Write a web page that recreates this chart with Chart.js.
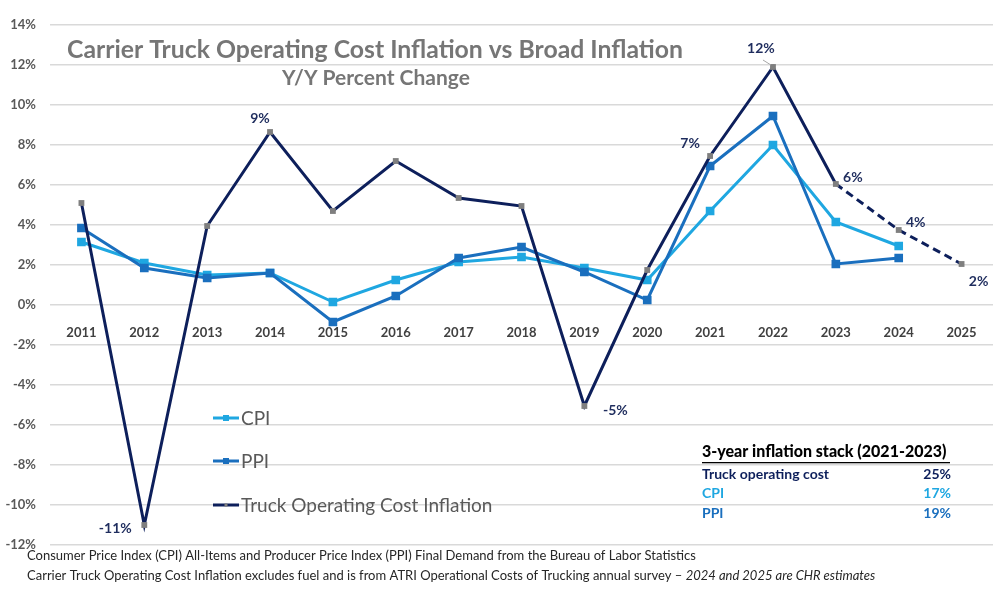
<!DOCTYPE html>
<html>
<head>
<meta charset="utf-8">
<script src="https://cdn.jsdelivr.net/npm/chart.js@4/dist/chart.umd.min.js"></script>
<style>
  body { margin: 0; background: #fff; }
  #grafico { display: block; }
</style>
</head>
<body>
<canvas id="grafico" width="1000" height="589"></canvas>
<script>
// dados (% variação anual)
const anos = ['2011','2012','2013','2014','2015','2016','2017','2018','2019','2020','2021','2022','2023','2024','2025'];
const cpi = [3.15, 2.1, 1.5, 1.6, 0.15, 1.25, 2.15, 2.4, 1.85, 1.25, 4.7, 8.0, 4.15, 2.95, null];
const ppi = [3.85, 1.85, 1.35, 1.6, -0.85, 0.45, 2.35, 2.9, 1.65, 0.25, 6.95, 9.45, 2.05, 2.35, null];
const caminhao = [5.1, -11.0, 3.95, 8.65, 4.7, 7.2, 5.35, 4.95, -5.05, 1.75, 7.45, 11.9, 6.05, 3.75, 2.05];
const rotulosCaminhao = [null, '-11%', null, '9%', null, null, null, null, '-5%', null, '7%', '12%', '6%', '4%', '2%'];
const inicioEstimativa = 12; // 2023 -> linha tracejada
const yTicks = [-12, -10, -8, -6, -4, -2, 0, 2, 4, 6, 8, 10, 12, 14];

const tabelaTitulo = '3-year inflation stack (2021-2023)';
const tabelaNomes = ['Truck operating cost', 'CPI', 'PPI'];
const tabelaValores = ['25%', '17%', '19%'];

const cores = { cpi: '#1fa7e1', ppi: '#1a6fbe', caminhao: '#0d1f5b' };
const fonte = 'Lato, "Noto Sans", sans-serif';

// deslocamento de cada rótulo em relação ao ponto
const deslocRotulos = {
    1: [-29, 3], 3: [-10, -14], 8: [31, 4], 10: [-20, -13],
    11: [-12, -19], 12: [17, -7], 13: [17, -8], 14: [17, 17]
};

const textosPlugin = {
    id: 'textos',
    afterDatasetsDraw(chart) {
        const { ctx } = chart;
        ctx.save();
        // título
        ctx.fillStyle = '#767676';
        ctx.textAlign = 'center';
        ctx.textBaseline = 'middle';
        ctx.font = `bold 25px ${fonte}`;
        ctx.fillText('Carrier Truck Operating Cost Inflation vs Broad Inflation', 375, 50, 616);
        ctx.font = `bold 21px ${fonte}`;
        ctx.fillText('Y/Y Percent Change', 376, 78, 194);

        // rótulos da linha do caminhão
        const meta = chart.getDatasetMeta(0);
        ctx.fillStyle = '#1f2d5e';
        ctx.font = `bold 14px ${fonte}`;
        rotulosCaminhao.forEach((txt, i) => {
            if (!txt) return;
            const p = meta.data[i];
            const [dx, dy] = deslocRotulos[i] || [0, -12];
            ctx.fillText(txt, p.x + dx, p.y + dy);
            if (i === 11) {
                ctx.strokeStyle = '#a6a6a6';
                ctx.lineWidth = 1;
                ctx.beginPath();
                ctx.moveTo(p.x - 10, p.y - 7);
                ctx.lineTo(p.x - 2, p.y - 2);
                ctx.stroke();
            }
        });

        // legenda
        const itensLegenda = [[1, 418], [2, 461], [0, 505]];
        ctx.textAlign = 'left';
        ctx.font = `19px ${fonte}`;
        itensLegenda.forEach(([idx, y]) => {
            const ds = chart.data.datasets[idx];
            ctx.strokeStyle = ds.borderColor;
            ctx.lineWidth = 3;
            ctx.beginPath();
            ctx.moveTo(213, y);
            ctx.lineTo(239, y);
            ctx.stroke();
            ctx.fillStyle = ds.pointBackgroundColor;
            const r = idx === 0 ? 1.5 : 3;
            ctx.fillRect(226 - r, y - r, r * 2, r * 2);
            ctx.fillStyle = '#595959';
            ctx.fillText(ds.label, 241, y + 1, 256);
        });

        // tabela
        ctx.fillStyle = '#000';
        ctx.font = `900 16px ${fonte}`;
        ctx.fillText(tabelaTitulo, 702, 452, 248);
        ctx.fillRect(702, 462, 248, 1.3);
        const coresTabela = [cores.caminhao, cores.cpi, cores.ppi];
        ctx.font = `bold 14px ${fonte}`;
        tabelaNomes.forEach((nome, i) => {
            const y = 474 + i * 19.5;
            ctx.fillStyle = coresTabela[i];
            ctx.textAlign = 'left';
            ctx.fillText(nome, 702, y);
            ctx.textAlign = 'right';
            ctx.fillText(tabelaValores[i], 951, y);
        });

        // notas de rodapé
        ctx.textAlign = 'left';
        ctx.fillStyle = '#262626';
        ctx.font = `13px ${fonte}`;
        ctx.fillText('Consumer Price Index (CPI) All-Items and Producer Price Index (PPI) Final Demand from the Bureau of Labor Statistics', 27, 556, 711);
        const parte1 = 'Carrier Truck Operating Cost Inflation excludes fuel and is from ATRI Operational Costs of Trucking annual survey – ';
        ctx.fillText(parte1, 27, 576, 735);
        const w1 = Math.min(ctx.measureText(parte1).width, 735);
        ctx.font = `italic 13px ${fonte}`;
        ctx.fillText('2024 and 2025 are CHR estimates', 27 + w1, 576, 968 - 27 - w1);
        ctx.restore();
    }
};

new Chart(document.getElementById('grafico'), {
    type: 'line',
    data: {
        labels: anos,
        datasets: [
            {
                label: 'Truck Operating Cost Inflation',
                data: caminhao,
                borderColor: cores.caminhao,
                borderWidth: 3,
                pointStyle: 'rect',
                pointRadius: 2,
                pointBackgroundColor: '#7f7f7f',
                pointBorderColor: '#7f7f7f',
                segment: {
                    borderDash: c => c.p0DataIndex >= inicioEstimativa ? [8, 5] : undefined
                },
                order: 0
            },
            {
                label: 'CPI',
                data: cpi,
                borderColor: cores.cpi,
                borderWidth: 3,
                pointStyle: 'rect',
                pointRadius: 4,
                pointBackgroundColor: cores.cpi,
                pointBorderColor: cores.cpi,
                order: 2
            },
            {
                label: 'PPI',
                data: ppi,
                borderColor: cores.ppi,
                borderWidth: 3,
                pointStyle: 'rect',
                pointRadius: 4,
                pointBackgroundColor: cores.ppi,
                pointBorderColor: cores.ppi,
                order: 1
            }
        ]
    },
    options: {
        responsive: false,
        animation: false,
        layout: { padding: { top: 25, right: 2, bottom: 44, left: 0 } },
        plugins: {
            legend: { display: false },
            title: { display: false },
            tooltip: { enabled: false }
        },
        scales: {
            x: {
                position: { y: 0 },
                offset: true,
                afterFit: s => { s.paddingLeft = 0; s.paddingRight = 0; },
                grid: { display: false },
                border: { display: false },
                ticks: {
                    padding: 12,
                    color: '#404040',
                    font: { family: fonte, size: 13, weight: 'bold' },
                    maxRotation: 0
                }
            },
            y: {
                min: -12,
                max: 14,
                afterFit: s => { s.width = 50; },
                afterBuildTicks: s => { s.ticks = yTicks.map(v => ({ value: v })); },
                grid: { color: '#d9d9d9', lineWidth: 1.5, drawTicks: false },
                border: { display: false },
                ticks: {
                    padding: 14,
                    color: '#595959',
                    font: { family: fonte, size: 13, weight: 'bold' },
                    callback: v => v + '%'
                }
            }
        }
    },
    plugins: [textosPlugin]
});
</script>
</body>
</html>
